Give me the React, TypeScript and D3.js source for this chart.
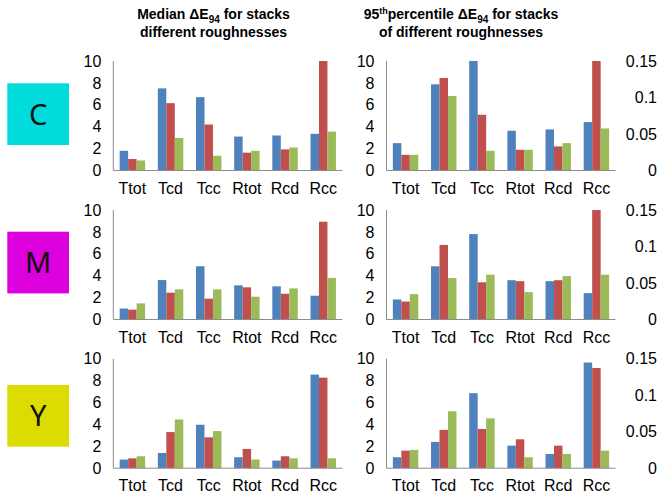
import React from "react";
import * as d3 from "d3";

const categories = ["Ttot", "Tcd", "Tcc", "Rtot", "Rcd", "Rcc"];
const seriesKeys = ["s1", "s2", "s3"];
const seriesColors = ["#4F81BD", "#C0504D", "#9BBB59"];
const inks = ["C", "M", "Y"];
const inkColors = ["#00DCDC", "#DC00DC", "#DCDC00"];
const leftTicks = [0, 2, 4, 6, 8, 10];
const rightTicks = [0, 0.05, 0.1, 0.15];
const rightTickLabels = ["0", "0.05", "0.1", "0.15"];

// Median ΔE94 (left column)
const C_MED_S1 = [1.8, 7.5, 6.7, 3.1, 3.2, 3.35];
const C_MED_S2 = [1.05, 6.15, 4.2, 1.63, 1.93, 10];
const C_MED_S3 = [0.92, 2.97, 1.35, 1.8, 2.1, 3.55];
const M_MED_S1 = [1.0, 3.6, 4.86, 3.12, 3.03, 2.17];
const M_MED_S2 = [0.9, 2.45, 1.9, 2.94, 2.35, 8.93];
const M_MED_S3 = [1.47, 2.75, 2.75, 2.08, 2.84, 3.8];
const Y_MED_S1 = [0.79, 1.39, 3.97, 1.0, 0.7, 8.55];
const Y_MED_S2 = [0.9, 3.3, 2.82, 1.76, 1.09, 8.27];
const Y_MED_S3 = [1.09, 4.45, 3.39, 0.79, 0.9, 0.9];

// 95th percentile ΔE94 (right column)
const C_P95_S1 = [2.5, 7.87, 10, 3.63, 3.75, 4.42];
const C_P95_S2 = [1.43, 8.45, 5.09, 1.89, 2.2, 10];
const C_P95_S3 = [1.43, 6.8, 1.8, 1.89, 2.5, 3.84];
const M_P95_S1 = [1.83, 4.86, 7.8, 3.59, 3.5, 2.41];
const M_P95_S2 = [1.64, 6.81, 3.4, 3.5, 3.59, 10];
const M_P95_S3 = [2.32, 3.78, 4.09, 2.5, 3.96, 4.09];
const Y_P95_S1 = [1.0, 2.4, 6.85, 2.06, 1.3, 9.65];
const Y_P95_S2 = [1.6, 3.5, 3.58, 2.64, 2.06, 9.15];
const Y_P95_S3 = [1.67, 5.2, 4.55, 1.0, 1.3, 1.6];

const medianRows = [
  [C_MED_S1, C_MED_S2, C_MED_S3],
  [M_MED_S1, M_MED_S2, M_MED_S3],
  [Y_MED_S1, Y_MED_S2, Y_MED_S3],
];
const p95Rows = [
  [C_P95_S1, C_P95_S2, C_P95_S3],
  [M_P95_S1, M_P95_S2, M_P95_S3],
  [Y_P95_S1, Y_P95_S2, Y_P95_S3],
];

const FONT = "'Liberation Sans', Arial, Helvetica, sans-serif";
const W = 657;
const H = 496;
const panelW = 229;
const plotH = 109.5;
const rowTops = [61, 210, 358.7];
const colX0 = [113.3, 386.5];
const axisColor = "#8C8C8C";

function Panel({ x0, top, series, rightAxis }: { x0: number; top: number; series: number[][]; rightAxis: boolean }) {
  const x = d3.scaleBand<string>().domain(categories).range([x0, x0 + panelW]).padding(0);
  const bw = x.bandwidth() / 4.5;
  const xs = d3.scaleBand<string>().domain(seriesKeys).range([0.75 * bw, 3.75 * bw]).padding(0);
  const y = d3.scaleLinear().domain([0, 10]).range([top + plotH, top]);
  const yR = d3.scaleLinear().domain([0, 0.15]).range([top + plotH, top]);
  const zero = y(0);
  return (
    <g>
      {series.map((vals, si) =>
        vals.map((v, ci) => (
          <rect
            key={`${si}-${ci}`}
            x={(x(categories[ci]) as number) + (xs(seriesKeys[si]) as number)}
            y={y(Math.min(v, 10))}
            width={xs.bandwidth()}
            height={zero - y(Math.min(v, 10))}
            fill={seriesColors[si]}
          />
        ))
      )}
      <line x1={x0} x2={x0} y1={y(10)} y2={zero} stroke={axisColor} strokeWidth={1} />
      <line x1={x0} x2={x0 + panelW} y1={zero} y2={zero} stroke={axisColor} strokeWidth={1} />
      {leftTicks.map((t) => (
        <text key={t} x={x0 - 12} y={y(t)} dy="0.35em" textAnchor="end" fontSize={16} fontFamily={FONT} fill="#000">
          {t}
        </text>
      ))}
      {rightAxis &&
        rightTicks.map((t, i) => (
          <text key={t} x={657} y={yR(t)} dy="0.35em" textAnchor="end" fontSize={16} fontFamily={FONT} fill="#000">
            {rightTickLabels[i]}
          </text>
        ))}
      {categories.map((c) => (
        <text
          key={c}
          x={(x(c) as number) + x.bandwidth() / 2}
          y={zero + 23}
          textAnchor="middle"
          fontSize={16}
          fontFamily={FONT}
          fill="#000"
        >
          {c}
        </text>
      ))}
    </g>
  );
}

export default function App() {
  return (
    <svg width={W} height={H} style={{ position: "absolute", left: 0, top: 0, background: "#fff" }}>
      <rect x={0} y={0} width={W} height={H} fill="#fff" />
      {/* Titles */}
      <text x={213.5} y={19} textAnchor="middle" fontSize={14} fontWeight="bold" fontFamily={FONT} fill="#000">
        Median ΔE<tspan fontSize={10} dy={4}>94</tspan>
        <tspan dy={-4}> for stacks</tspan>
      </text>
      <text x={213.5} y={37} textAnchor="middle" fontSize={14} fontWeight="bold" fontFamily={FONT} fill="#000">
        different roughnesses
      </text>
      <text x={461} y={19} textAnchor="middle" fontSize={14} fontWeight="bold" fontFamily={FONT} fill="#000">
        95<tspan fontSize={9} dy={-5}>th</tspan>
        <tspan dy={5}>percentile ΔE</tspan>
        <tspan fontSize={10} dy={4}>94</tspan>
        <tspan dy={-4}> for stacks</tspan>
      </text>
      <text x={461} y={37} textAnchor="middle" fontSize={14} fontWeight="bold" fontFamily={FONT} fill="#000">
        of different roughnesses
      </text>
      {/* Ink boxes */}
      {inks.map((ink, i) => {
        const boxTops = [83.3, 231.7, 385];
        return (
          <g key={ink}>
            <rect x={7.3} y={boxTops[i]} width={61.7} height={61.7} fill={inkColors[i]} />
            <text
              x={7.3 + 61.7 / 2}
              y={boxTops[i] + 61.7 / 2}
              dy="0.36em"
              textAnchor="middle"
              fontSize={29}
              fontFamily="'Noto Sans', 'Open Sans', sans-serif"
              fill="#111"
            >
              {ink}
            </text>
          </g>
        );
      })}
      {rowTops.map((top, r) => (
        <g key={r}>
          <Panel x0={colX0[0]} top={top} series={medianRows[r]} rightAxis={false} />
          <Panel x0={colX0[1]} top={top} series={p95Rows[r]} rightAxis={true} />
        </g>
      ))}
    </svg>
  );
}
